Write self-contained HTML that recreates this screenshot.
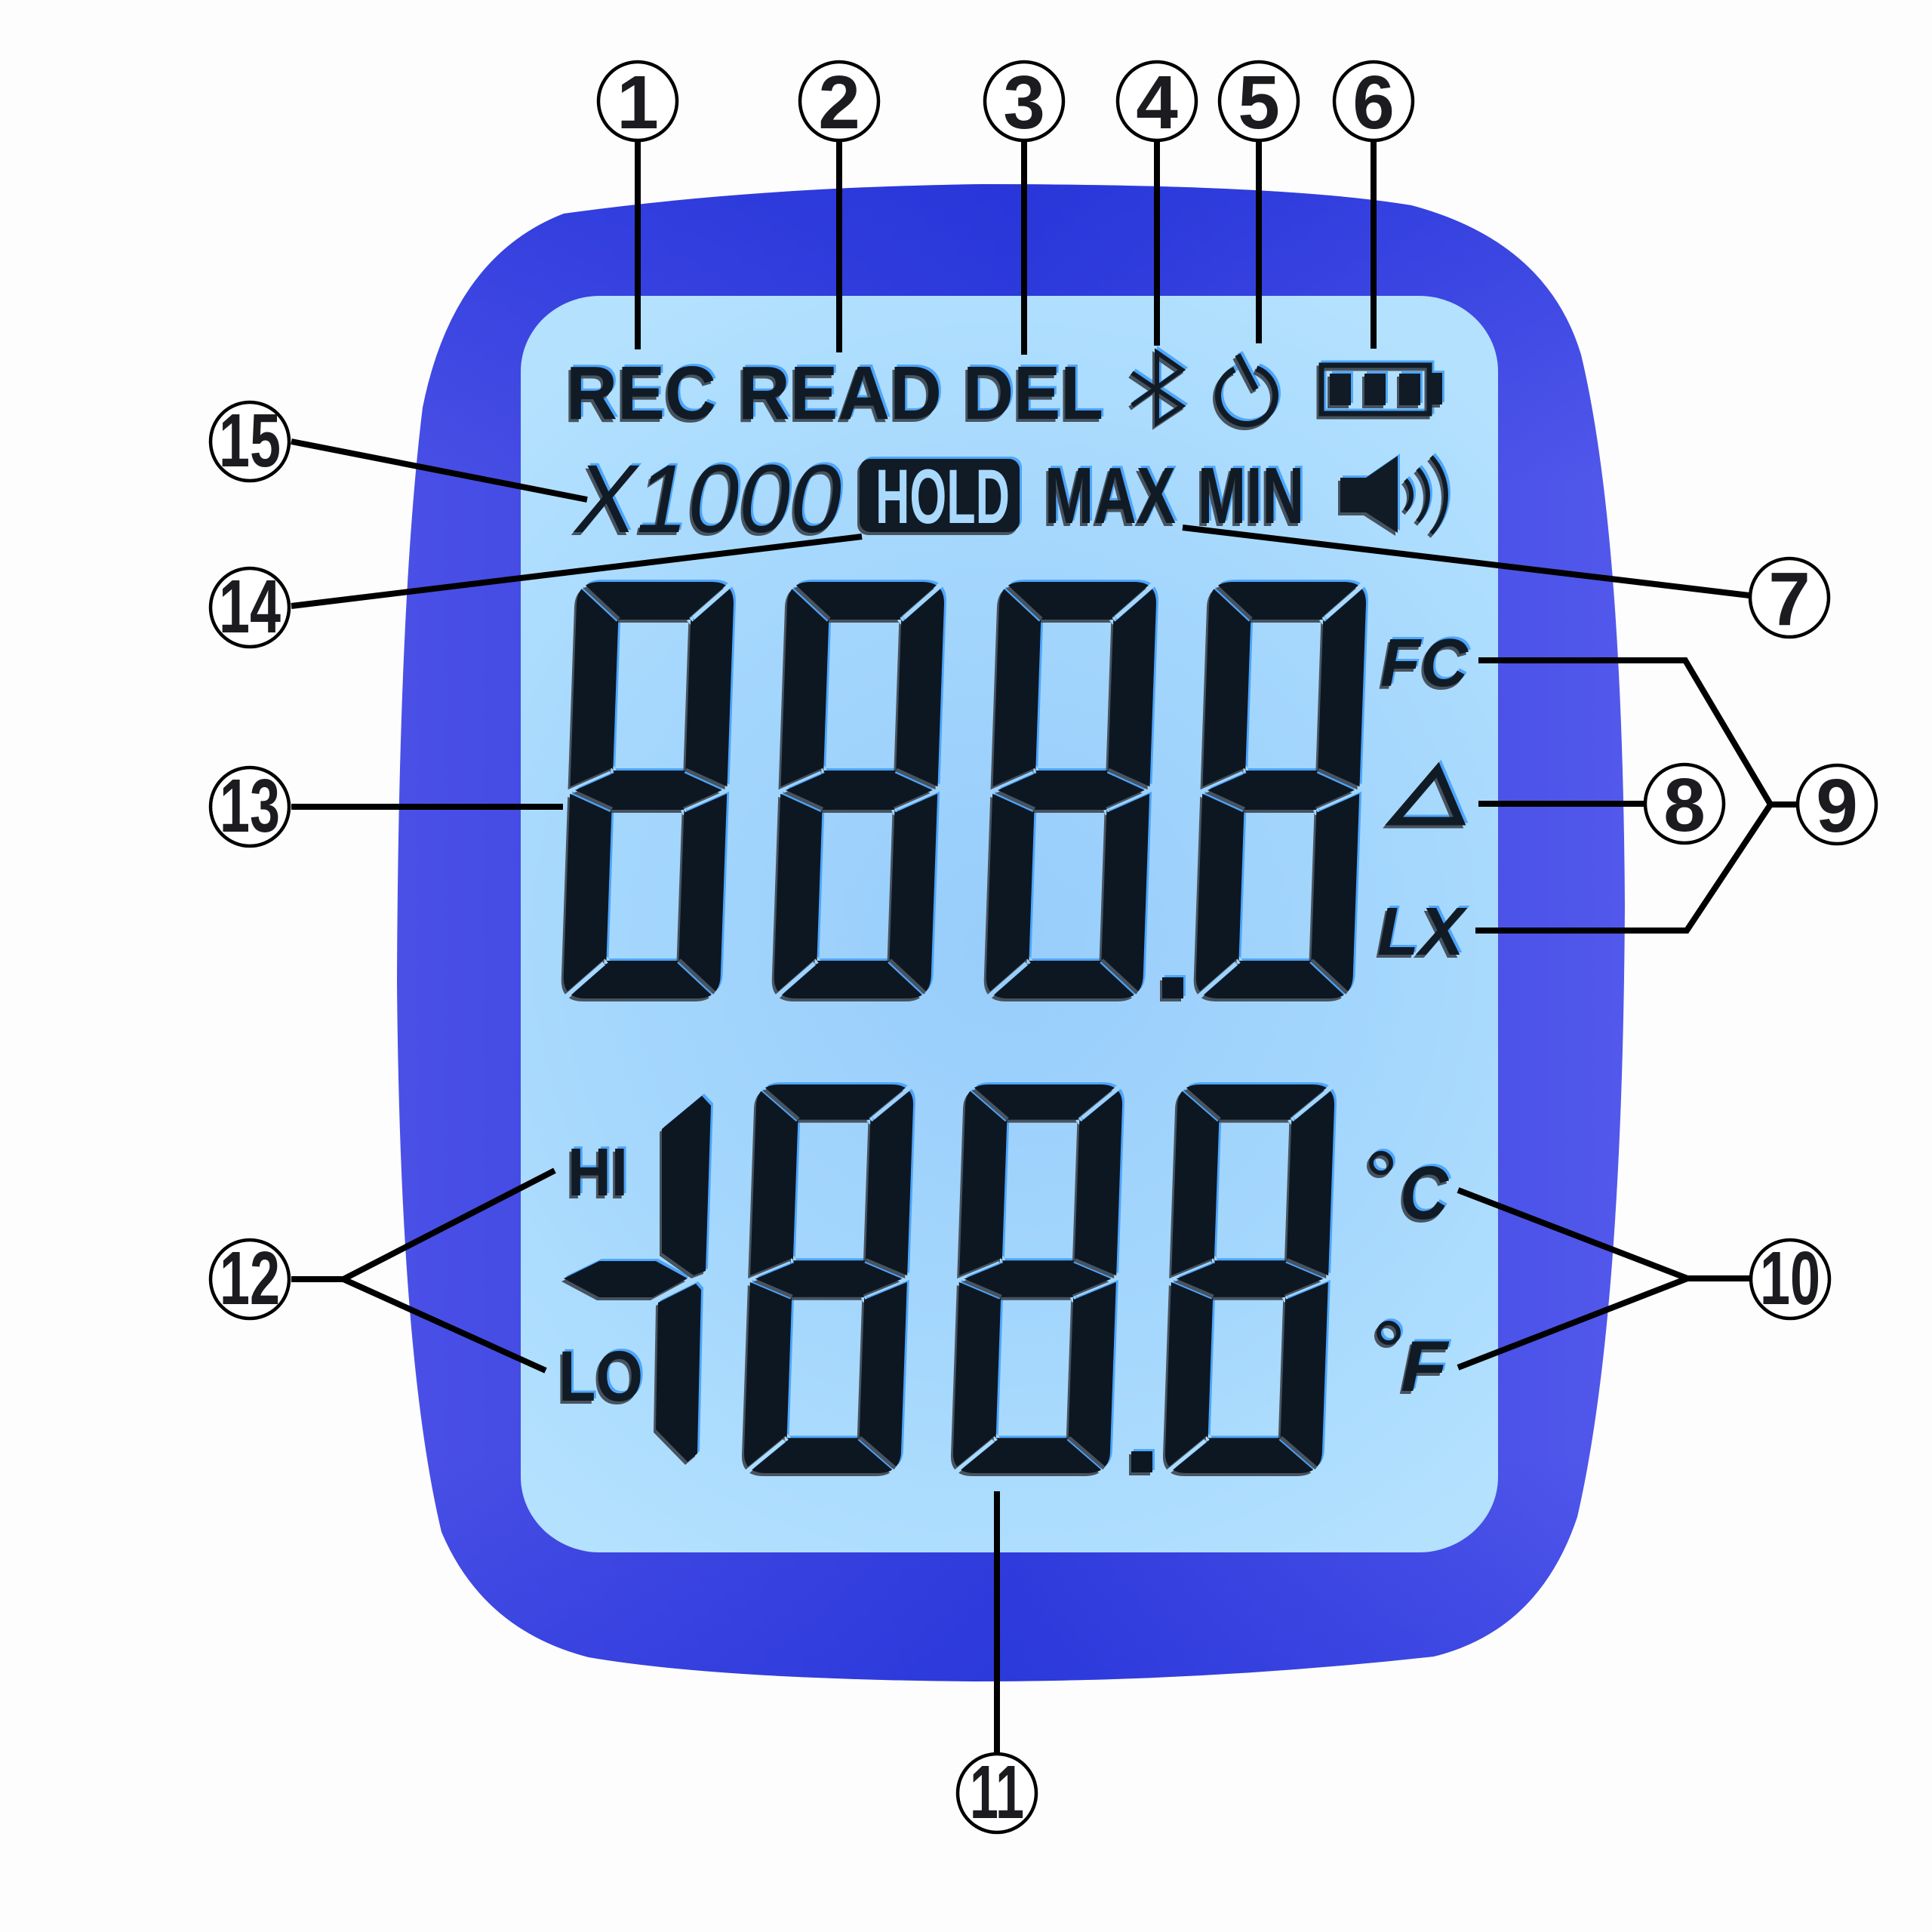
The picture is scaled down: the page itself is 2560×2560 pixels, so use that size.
<!DOCTYPE html>
<html><head><meta charset="utf-8"><style>
html,body{margin:0;padding:0;background:#fdfdfd;}
svg{display:block;}
.lbl circle{fill:#fff;stroke:#000;stroke-width:4.5;}
.lbl text{font-family:"Liberation Sans",sans-serif;font-weight:bold;font-size:100px;fill:#1c1c20;text-anchor:middle;}
.con{stroke:#000;stroke-width:8;fill:none;stroke-linejoin:miter;}
.t{font-family:"Liberation Sans",sans-serif;fill:#111b25;}
</style></head><body>
<svg width="2560" height="2560" viewBox="0 0 2560 2560" xmlns="http://www.w3.org/2000/svg">
<defs>
  <linearGradient id="hous" x1="0" y1="0" x2="1" y2="0">
    <stop offset="0" stop-color="#4a50e6"/>
    <stop offset="0.5" stop-color="#323ddd"/>
    <stop offset="1" stop-color="#5258eb"/>
  </linearGradient>
  <linearGradient id="houv" x1="0" y1="0" x2="0" y2="1">
    <stop offset="0" stop-color="#1c2ed6" stop-opacity="0.45"/>
    <stop offset="0.2" stop-color="#1c2ed6" stop-opacity="0"/>
    <stop offset="0.85" stop-color="#1c2ed6" stop-opacity="0"/>
    <stop offset="1" stop-color="#1c2ed6" stop-opacity="0.3"/>
  </linearGradient>
  <radialGradient id="lcdg" cx="1330" cy="1250" r="950" gradientUnits="userSpaceOnUse">
    <stop offset="0" stop-color="#98cdfb"/>
    <stop offset="0.6" stop-color="#a6d8fd"/>
    <stop offset="1" stop-color="#b3e1fe"/>
  </radialGradient>
  <filter id="fx" x="-3%" y="-3%" width="106%" height="106%" color-interpolation-filters="sRGB">
    <feOffset in="SourceAlpha" dx="3" dy="-3" result="a"/>
    <feFlood flood-color="#4da6ff" result="b"/>
    <feComposite in="b" in2="a" operator="in" result="blue"/>
    <feOffset in="SourceAlpha" dx="-3" dy="4" result="c"/>
    <feFlood flood-color="#47535f" result="d"/>
    <feComposite in="d" in2="c" operator="in" result="sh"/>
    <feMerge><feMergeNode in="blue"/><feMergeNode in="sh"/><feMergeNode in="SourceGraphic"/></feMerge>
  </filter>
  <mask id="m8" maskUnits="userSpaceOnUse" x="-30" y="-30" width="270" height="620">
    <rect x="-30" y="-30" width="270" height="620" fill="#fff"/>
    <path d="M-6,-6L56,50 M214,-6L152,50 M-6,558L56,502 M214,558L152,502 M56,250L-2,276L56,302 M152,250L210,276L152,302" stroke="#000" stroke-width="7" fill="none"/>
  </mask>
  <g id="d8">
    <path d="M30,0H178Q208,0 208,30V522Q208,552 178,552H30Q0,552 0,522V30Q0,0 30,0Z M56,50H152V250H56Z M56,302H152V502H56Z" fill-rule="evenodd" fill="#0d1722" mask="url(#m8)"/>
  </g>
</defs>

<rect width="2560" height="2560" fill="#fdfdfd"/>

<!-- housing -->
<path d="M747,283 Q1000,248 1300,244 Q1700,244 1870,272 Q2050,320 2095,470 Q2150,700 2153,1200 Q2150,1750 2090,2010 Q2040,2160 1900,2195 Q1600,2228 1290,2228 Q950,2225 780,2196 Q640,2160 585,2030 Q530,1800 526,1300 Q528,800 560,540 Q600,340 747,283 Z" fill="url(#hous)"/>
<path d="M747,283 Q1000,248 1300,244 Q1700,244 1870,272 Q2050,320 2095,470 Q2150,700 2153,1200 Q2150,1750 2090,2010 Q2040,2160 1900,2195 Q1600,2228 1290,2228 Q950,2225 780,2196 Q640,2160 585,2030 Q530,1800 526,1300 Q528,800 560,540 Q600,340 747,283 Z" fill="url(#houv)"/>

<!-- LCD -->
<rect x="690" y="392" width="1295" height="1665" rx="105" ry="100" fill="url(#lcdg)"/>

<g filter="url(#fx)">
  <!-- row 1 text -->
  <text class="t" x="750" y="555" font-size="100" font-weight="bold" textLength="199" lengthAdjust="spacingAndGlyphs">REC</text>
  <text class="t" x="978" y="555" font-size="100" font-weight="bold" textLength="270" lengthAdjust="spacingAndGlyphs">READ</text>
  <text class="t" x="1276" y="555" font-size="100" font-weight="bold" textLength="186" lengthAdjust="spacingAndGlyphs">DEL</text>
  <path d="M1500,494 L1566,538 L1533,560 L1533,467 L1566,490 L1500,537" fill="none" stroke="#111b25" stroke-width="6" stroke-linejoin="miter"/>
  <path d="M1665,488.3 A38,38 0 1 1 1635.9,489.6" fill="none" stroke="#111b25" stroke-width="8"/>
  <path d="M1640,470 L1664,516" stroke="#111b25" stroke-width="8"/>
  <rect x="1751" y="484" width="143" height="64" fill="none" stroke="#111b25" stroke-width="7"/>
  <rect x="1894" y="494" width="17" height="42" fill="#111b25"/>
  <rect x="1762" y="495" width="28" height="42" fill="#111b25"/>
  <rect x="1808" y="495" width="28" height="42" fill="#111b25"/>
  <rect x="1854" y="495" width="28" height="42" fill="#111b25"/>

  <!-- row 2 -->
  <text class="t" x="762" y="705" font-size="128" font-style="italic" textLength="353" lengthAdjust="spacingAndGlyphs">X1000</text>
  <rect x="1139" y="608" width="212" height="97" rx="14" fill="#111b25"/>
  <text x="1160" y="693" font-family="Liberation Sans, sans-serif" font-size="102" font-weight="bold" fill="#a9d9fd" textLength="178" lengthAdjust="spacingAndGlyphs">HOLD</text>
  <text class="t" x="1384" y="693" font-size="106" font-weight="bold" textLength="174" lengthAdjust="spacingAndGlyphs">MAX</text>
  <text class="t" x="1587" y="693" font-size="106" font-weight="bold" textLength="141" lengthAdjust="spacingAndGlyphs">MIN</text>
  <path d="M1776,633H1810L1852,604V706L1810,679H1776Z" fill="#111b25"/>
  <path d="M1862.3,635.9 A30,30 0 0 1 1862.3,676.1 M1878.6,621.2 A52,52 0 0 1 1878.6,690.8 M1896.5,605.2 A76,76 0 0 1 1896.5,706.8" fill="none" stroke="#111b25" stroke-width="6"/>

  <!-- big digits row 1 -->
  <use href="#d8" transform="translate(765,771) skewX(-2)"/>
  <use href="#d8" transform="translate(1044,771) skewX(-2)"/>
  <use href="#d8" transform="translate(1325,771) skewX(-2)"/>
  <use href="#d8" transform="translate(1603,771) skewX(-2)"/>
  <rect x="1540" y="1295" width="28" height="28" fill="#0d1722"/>

  <!-- row 2 digits -->
  <polygon points="747,1694 794,1671 869,1671 911,1694 865,1719 794,1719" fill="#0d1722"/>
  <polygon points="877,1496 930,1452 942,1465 935,1684 919,1690 877,1660" fill="#0d1722"/>
  <polygon points="872,1726 922,1701 929,1709 924,1926 911,1937 869,1894" fill="#0d1722"/>
  <use href="#d8" transform="translate(1003,1437) skewX(-2) scale(1,0.933)"/>
  <use href="#d8" transform="translate(1280,1437) skewX(-2) scale(1,0.933)"/>
  <use href="#d8" transform="translate(1561,1437) skewX(-2) scale(1,0.933)"/>
  <rect x="1499" y="1923" width="28" height="28" fill="#0d1722"/>

  <!-- side indicators -->
  <text class="t" x="1829" y="909" font-size="90" font-weight="bold" font-style="italic" textLength="116" lengthAdjust="spacingAndGlyphs">FC</text>
  <polygon points="1905,1020 1934,1088 1847,1088" fill="none" stroke="#111b25" stroke-width="11" stroke-linejoin="miter"/>
  <text class="t" x="1825" y="1265" font-size="90" font-weight="bold" font-style="italic" textLength="115" lengthAdjust="spacingAndGlyphs">LX</text>
  <text class="t" x="752" y="1584" font-size="90" font-weight="bold" textLength="80" lengthAdjust="spacingAndGlyphs">HI</text>
  <text class="t" x="740" y="1856" font-size="95" font-weight="bold" textLength="112" lengthAdjust="spacingAndGlyphs">LO</text>
  <circle cx="1830" cy="1541" r="13" fill="none" stroke="#111b25" stroke-width="6"/>
  <text class="t" x="1855" y="1615" font-size="100" font-weight="bold" font-style="italic" textLength="64" lengthAdjust="spacingAndGlyphs">C</text>
  <circle cx="1840" cy="1766" r="13" fill="none" stroke="#111b25" stroke-width="6"/>
  <text class="t" x="1856" y="1843" font-size="95" font-weight="bold" font-style="italic" textLength="62" lengthAdjust="spacingAndGlyphs">F</text>
</g>

<!-- connectors -->
<g class="con">
  <path d="M845,187V463 M1112,187V467 M1357,187V470 M1533,187V458 M1668,187V455 M1820,187V462"/>
  <path d="M386,585 L778,662"/>
  <path d="M386,803 L1142,711"/>
  <path d="M1567,699 L2318,789"/>
  <path d="M386,1069 L746,1069"/>
  <path d="M1959,1065 L2180,1065"/>
  <path d="M1959,875 L2233,875 L2346,1066 L2381,1066 M1955,1233 L2235,1233 L2346,1066"/>
  <path d="M386,1695 L455,1695 M735,1551 L455,1695 L723,1816"/>
  <path d="M1932,1577 L2236,1694 L1932,1812 M2236,1694 L2318,1694"/>
  <path d="M1321,1976 L1321,2322"/>
</g>

<!-- numbered labels -->
<g class="lbl">
  <circle cx="845" cy="134" r="52"/><text x="845" y="170">1</text>
  <circle cx="1112" cy="134" r="52"/><text x="1112" y="170">2</text>
  <circle cx="1357" cy="134" r="52"/><text x="1357" y="170">3</text>
  <circle cx="1533" cy="134" r="52"/><text x="1533" y="170">4</text>
  <circle cx="1668" cy="134" r="52"/><text x="1668" y="170">5</text>
  <circle cx="1820" cy="134" r="52"/><text x="1820" y="170">6</text>
  <circle cx="2371" cy="792" r="52"/><text x="2371" y="828">7</text>
  <circle cx="2232" cy="1065" r="52"/><text x="2232" y="1101">8</text>
  <circle cx="2434" cy="1066" r="52"/><text x="2434" y="1102">9</text>
  <circle cx="2372" cy="1695" r="52"/><text x="2372" y="1728" font-size="92" textLength="80" lengthAdjust="spacingAndGlyphs">10</text>
  <circle cx="1321" cy="2376" r="52"/><text x="1321" y="2409" font-size="92" textLength="72" lengthAdjust="spacingAndGlyphs">11</text>
  <circle cx="331" cy="1695" r="52"/><text x="331" y="1728" font-size="92" textLength="80" lengthAdjust="spacingAndGlyphs">12</text>
  <circle cx="331" cy="1069" r="52"/><text x="331" y="1102" font-size="92" textLength="80" lengthAdjust="spacingAndGlyphs">13</text>
  <circle cx="331" cy="805" r="52"/><text x="331" y="838" font-size="92" textLength="82" lengthAdjust="spacingAndGlyphs">14</text>
  <circle cx="331" cy="585" r="52"/><text x="331" y="618" font-size="92" textLength="82" lengthAdjust="spacingAndGlyphs">15</text>
</g>
</svg>
</body></html>
